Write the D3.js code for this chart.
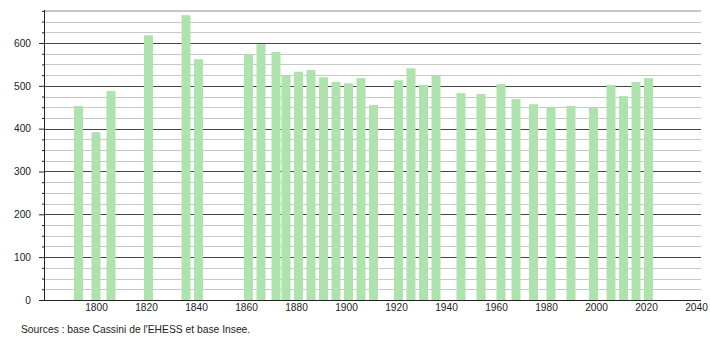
<!DOCTYPE html>
<html>
	<head>
		<meta charset="UTF-8">
		<title>Population</title>
		<script type="text/javascript" src="https://cdn.jsdelivr.net/npm/d3@7"></script>
		<style>
			body { margin: 0; background: #fff; }
			text { font-family: "Liberation Sans", Arial, sans-serif; }
		</style>
	</head>
	<body>
		<script>
			//census years and population
			var years = [1793, 1800, 1806, 1821, 1836, 1841, 1861, 1866, 1872, 1876, 1881, 1886, 1891, 1896, 1901, 1906, 1911,
				1921, 1926, 1931, 1936, 1946, 1954, 1962, 1968, 1975, 1982, 1990, 1999, 2006, 2011, 2016, 2021];
			var population = [453, 392, 488, 618, 665, 562, 572, 597, 579, 523, 533, 537, 520, 509, 506, 518, 455,
				513, 541, 502, 523, 483, 481, 504, 469, 457, 450, 453, 450, 502, 476, 509, 518];

			var xTicks = [1800, 1820, 1840, 1860, 1880, 1900, 1920, 1940, 1960, 1980, 2000, 2020, 2040];
			var yTicks = [0, 100, 200, 300, 400, 500, 600];
			var sourceText = "Sources : base Cassini de l'EHESS et base Insee.";

			var w = 710;
			var h = 340;
			var fontSize = "10.2px";

			var svg = d3.select("body")
				.append("svg")
				.attr("width", w)
				.attr("height", h);

			//scales
			var xScale = d3.scaleLinear()
				.domain([1779.2, 2042])
				.range([44, 701]);

			var yScale = d3.scaleLinear()
				.domain([0, 677])
				.range([300, 10]);

			//minor gridlines every 25
			var minor = d3.range(25, 677, 25).filter(function(v){ return v % 100 != 0; });
			svg.selectAll("line.minor")
				.data(minor)
				.enter()
				.append("line")
				.attr("class", "minor")
				.attr("x1", 44).attr("x2", 701)
				.attr("y1", function(d){ return Math.round(yScale(d)) + 0.5; })
				.attr("y2", function(d){ return Math.round(yScale(d)) + 0.5; })
				.attr("stroke", "#c8c8c8")
				.attr("stroke-width", 1);

			//major gridlines
			svg.selectAll("line.major")
				.data(yTicks.slice(1))
				.enter()
				.append("line")
				.attr("class", "major")
				.attr("x1", 44).attr("x2", 701)
				.attr("y1", function(d){ return Math.round(yScale(d)) + 0.5; })
				.attr("y2", function(d){ return Math.round(yScale(d)) + 0.5; })
				.attr("stroke", "#444")
				.attr("stroke-width", 1);

			//top line
			svg.append("line")
				.attr("x1", 44).attr("x2", 701)
				.attr("y1", 10.5).attr("y2", 10.5)
				.attr("stroke", "#c8c8c8");

			//bars
			var barW = 9;
			svg.selectAll("rect")
				.data(years)
				.enter()
				.append("rect")
				.attr("x", function(d){ return xScale(d) - barW / 2; })
				.attr("y", function(d, i){ return yScale(population[i]); })
				.attr("width", barW)
				.attr("height", function(d, i){ return yScale(0) - yScale(population[i]); })
				.attr("fill", "#afe3ae");

			//Y axis with minor ticks
			var yAxis = d3.axisLeft(yScale)
				.tickValues(yTicks)
				.tickSize(5)
				.tickPadding(8);

			var yMinor = d3.axisLeft(yScale)
				.tickValues(minor)
				.tickSize(2)
				.tickFormat("");

			svg.append("g")
				.attr("transform", "translate(44,0)")
				.call(yMinor)
				.call(function(g){ g.select(".domain").remove(); })
				.selectAll("line").attr("stroke", "#222");

			var gy = svg.append("g")
				.attr("transform", "translate(44,0)")
				.call(yAxis);
			gy.select(".domain").attr("d", "M0.5,10V300.5").attr("stroke", "#222");
			gy.selectAll("line").attr("stroke", "#222");
			gy.selectAll("text")
				.attr("font-size", fontSize)
				.attr("font-family", "Liberation Sans, Arial, sans-serif")
				.attr("fill", "#222");

			//X axis
			var xAxis = d3.axisBottom(xScale)
				.tickValues(xTicks)
				.tickSize(0)
				.tickPadding(4)
				.tickFormat(d3.format("d"));

			var gx = svg.append("g")
				.attr("transform", "translate(0,300)")
				.call(xAxis);
			gx.select(".domain").attr("d", "M44,0.5H701").attr("stroke", "#222");
			gx.selectAll("text")
				.attr("font-size", fontSize)
				.attr("font-family", "Liberation Sans, Arial, sans-serif")
				.attr("fill", "#222");

			//source
			svg.append("text")
				.attr("x", 21)
				.attr("y", 333)
				.attr("font-size", "10.3px")
				.attr("fill", "#222")
				.text(sourceText);
		</script>
	</body>
</html>
